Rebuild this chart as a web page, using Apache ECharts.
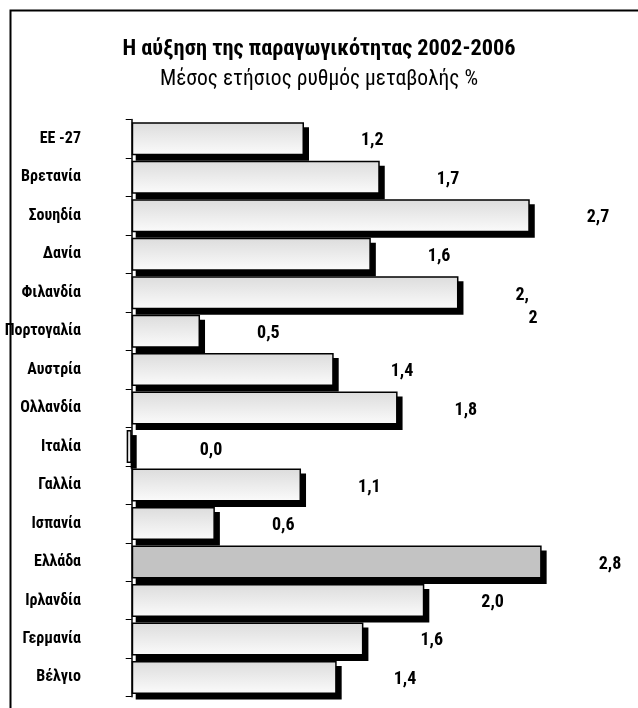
<!DOCTYPE html>
<html>
<head>
<meta charset="utf-8">
<script src="https://cdn.jsdelivr.net/npm/echarts@6/dist/echarts.min.js"></script>
<style>html,body{margin:0;padding:0;background:#fff;}#chart{width:638px;height:708px;}</style>
</head>
<body>
<div id="chart"></div>
<script>
var titleText = 'Η αύξηση της παραγωγικότητας 2002-2006';
var subtitleText = 'Μέσος ετήσιος ρυθμός μεταβολής %';
var categories = ['ΕΕ -27','Βρετανία','Σουηδία','Δανία','Φιλανδία','Πορτογαλία','Αυστρία','Ολλανδία','Ιταλία','Γαλλία','Ισπανία','Ελλάδα','Ιρλανδία','Γερμανία','Βέλγιο'];
var values = [1.16, 1.67, 2.68, 1.61, 2.20, 0.46, 1.36, 1.79, -0.034, 1.14, 0.56, 2.76, 1.97, 1.56, 1.38];
var valueLabels = ['1,2','1,7','2,7','1,6','2,2','0,5','1,4','1,8','0,0','1,1','0,6','2,8','2,0','1,6','1,4'];
var highlightCategory = 'Ελλάδα';

var FAMILY = 'Roboto';
var BAR_W = 33;

var labelFont = {fontFamily:FAMILY, fontStyle:'condensed', fontWeight:'bold', fontSize:18, color:'#000'};
var categoryFont = {fontFamily:FAMILY, fontStyle:'condensed', fontWeight:'bold', fontSize:16, color:'#000'};

var normalFill = {type:'linear',x:0,y:0,x2:0,y2:1,colorStops:[{offset:0,color:'#dcdcdc'},{offset:1,color:'#fbfbfb'}]};

var barData = values.map(function(v,i){
  var item = {value:v, name:categories[i]};
  if (categories[i] === highlightCategory) {
    item.itemStyle = {color:'#c3c3c3'};
  }
  if (valueLabels[i] === '2,2') {
    item.label = {formatter:'{a|2,}\n{b|2}', offset:[0,14]};
  }
  if (v < 0) {
    item.label = {offset:[11,4]};
  }
  return item;
});
var shadowData = values.map(function(v,i){ return [v, i]; });

var chart = echarts.init(document.getElementById('chart'), null, {renderer:'canvas'});
chart.setOption({
  animation:false,
  backgroundColor:'#fff',
  title:[
    {text:titleText, left:'center', top:33, textStyle:{fontFamily:FAMILY, fontSize:22.3, fontWeight:'bold semi-condensed', color:'#000'}},
    {text:subtitleText, left:'center', top:64, textStyle:{fontFamily:FAMILY, fontSize:21.5, fontWeight:'semi-condensed', color:'#000'}}
  ],
  graphic:[{type:'rect', left:8, top:8, shape:{width:700, height:800}, style:{fill:'none', stroke:'#000', lineWidth:2}, silent:true}],
  grid:{left:102, right:31, top:119.5, bottom:11.3, containLabel:false, outerBoundsMode:'none'},
  xAxis:{type:'value', min:-0.2, max:3.2, show:false, splitLine:{show:false}},
  yAxis:{type:'category', inverse:true, data:categories,
    axisLine:{show:true, onZero:true, lineStyle:{color:'#000', width:1.5}},
    axisTick:{show:true, inside:false, length:6, lineStyle:{color:'#000', width:1}},
    axisLabel:Object.assign({margin:21}, categoryFont)
  },
  series:[{
    type:'custom', z:1, silent:true,
    data:shadowData,
    encode:{x:0, y:1},
    renderItem:function(params, api){
      var v = api.value(0), idx = api.value(1);
      var p0 = api.coord([0, idx]), p1 = api.coord([v, idx]);
      var x0 = Math.min(p0[0], p1[0]), x1 = Math.max(p0[0], p1[0]);
      return {type:'rect', shape:{x:x0 + 4, y:p0[1] - BAR_W/2 + 5, width:x1 - x0 + 1, height:BAR_W + 0.5}, style:{fill:'#000'}};
    }
  },{
    type:'bar', z:2, data:barData, barWidth:BAR_W,
    itemStyle:{color:normalFill, borderColor:'#000', borderWidth:1.5},
    label:Object.assign({show:true, position:'right', distance:57, offset:[0,2],
      formatter:function(p){return valueLabels[p.dataIndex];},
      rich:{a:Object.assign({lineHeight:23}, labelFont), b:Object.assign({lineHeight:23, padding:[0,0,0,13]}, labelFont)}
    }, labelFont)
  }]
});
</script>
</body>
</html>
